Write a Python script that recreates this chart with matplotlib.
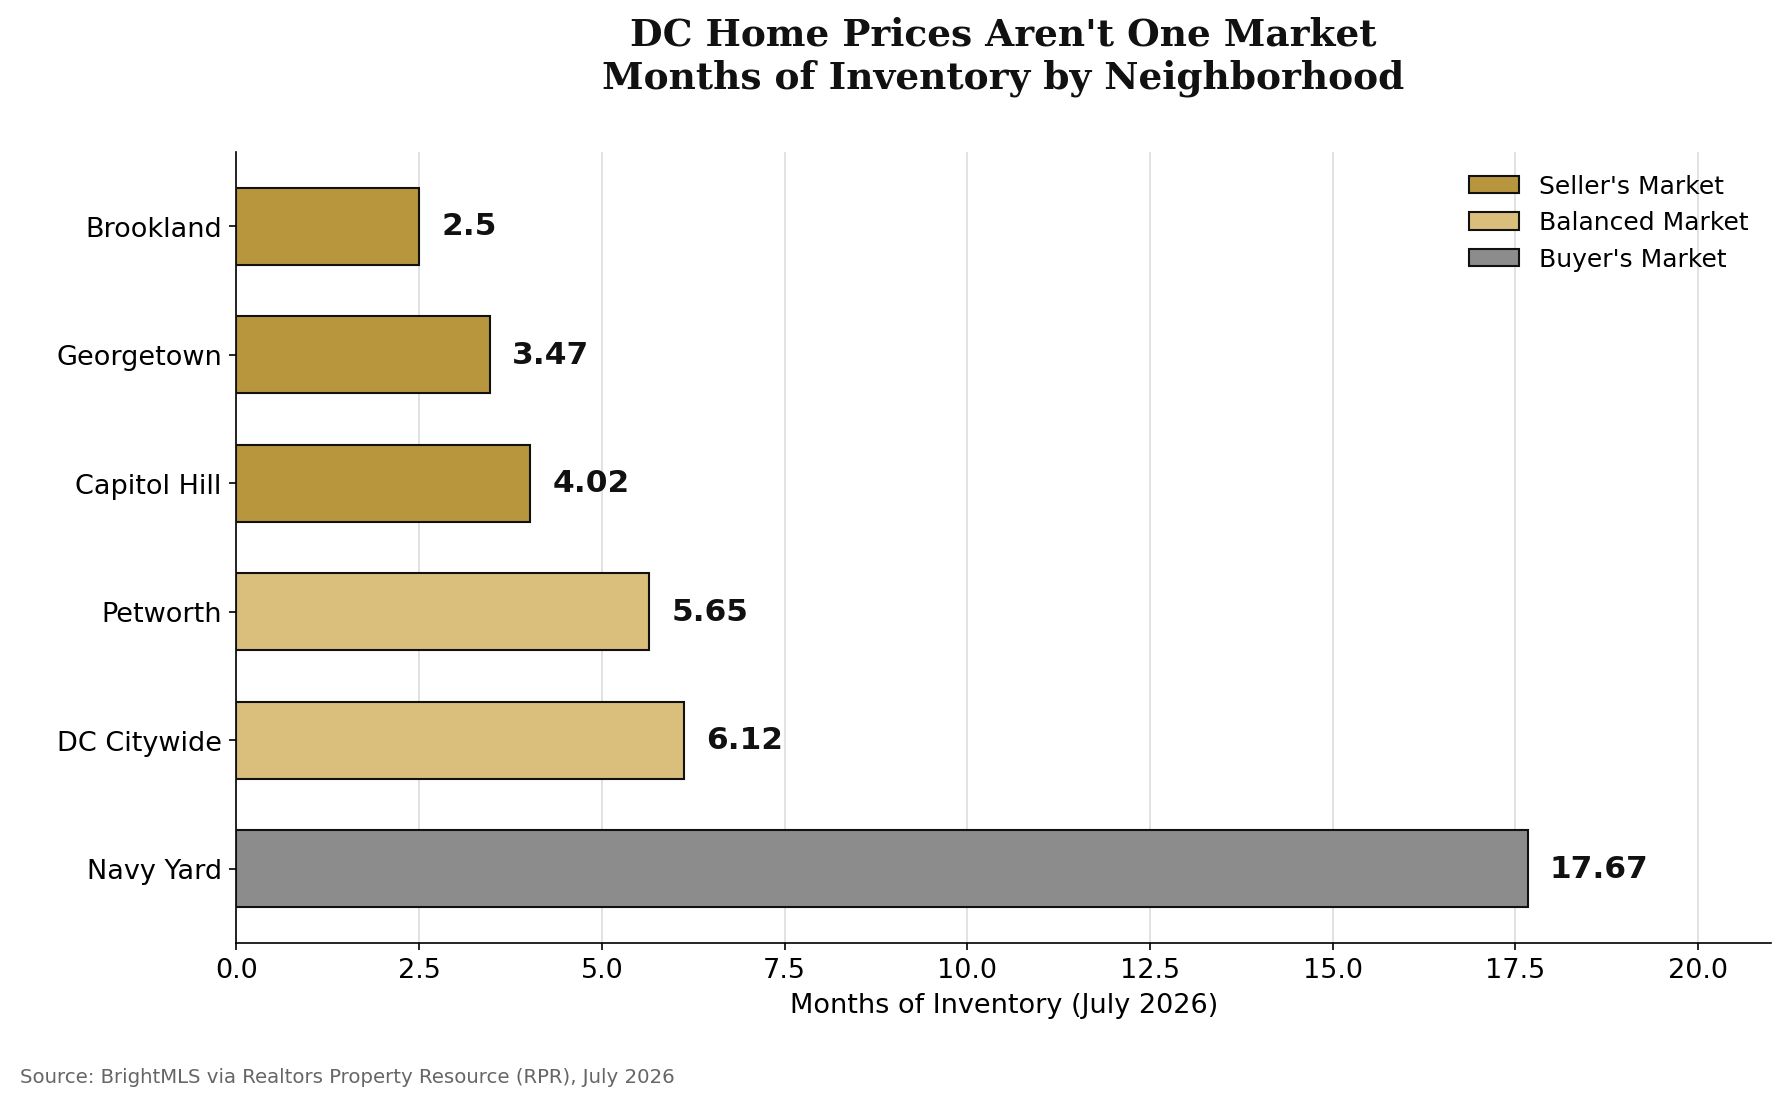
import matplotlib.pyplot as plt
from matplotlib.patches import Patch

neighborhoods = ["Brookland", "Georgetown", "Capitol Hill", "Petworth", "DC Citywide", "Navy Yard"]
months = [2.5, 3.47, 4.02, 5.65, 6.12, 17.67]
labels = ["2.5", "3.47", "4.02", "5.65", "6.12", "17.67"]
market = ["seller", "seller", "seller", "balanced", "balanced", "buyer"]

colors = {"seller": "#B8963E", "balanced": "#D9BE7C", "buyer": "#8C8C8C"}
names = {"seller": "Seller's Market", "balanced": "Balanced Market", "buyer": "Buyer's Market"}

fig = plt.figure(figsize=(11.94, 7.35), dpi=150)
ax = fig.add_axes([0.132, 0.144, 0.857, 0.718])

y = list(range(len(neighborhoods)))
ax.barh(y, months, height=0.6, color=[colors[m] for m in market], edgecolor="#111111", linewidth=1.0, zorder=3)
for yi, v, lab in zip(y, months, labels):
    ax.text(v + 0.3, yi, lab, va="center", ha="left", fontsize=15, fontweight="bold", color="#111111")

ax.set_yticks(y)
ax.set_yticklabels(neighborhoods, fontsize=13)
ax.invert_yaxis()
ax.set_xlim(0, 21)
ax.set_xticks([0, 2.5, 5, 7.5, 10, 12.5, 15, 17.5, 20])
ax.tick_params(axis="x", labelsize=13)
ax.set_xlabel("Months of Inventory (July 2026)", fontsize=13)
ax.grid(axis="x", color="#dddddd", linewidth=0.8, zorder=0)
ax.spines["top"].set_visible(False)
ax.spines["right"].set_visible(False)

handles = [Patch(facecolor=colors[k], edgecolor="#111111", label=names[k]) for k in ["seller", "balanced", "buyer"]]
ax.legend(handles=handles, loc="upper right", frameon=False, fontsize=12)

fig.suptitle("DC Home Prices Aren't One Market\nMonths of Inventory by Neighborhood",
             x=0.56, y=0.985, fontsize=18, fontweight="bold", family="DejaVu Serif", color="#111111")
fig.text(0.011, 0.018, "Source: BrightMLS via Realtors Property Resource (RPR), July 2026", fontsize=9.5, color="#666666")

fig.savefig("out.png", dpi=150)
